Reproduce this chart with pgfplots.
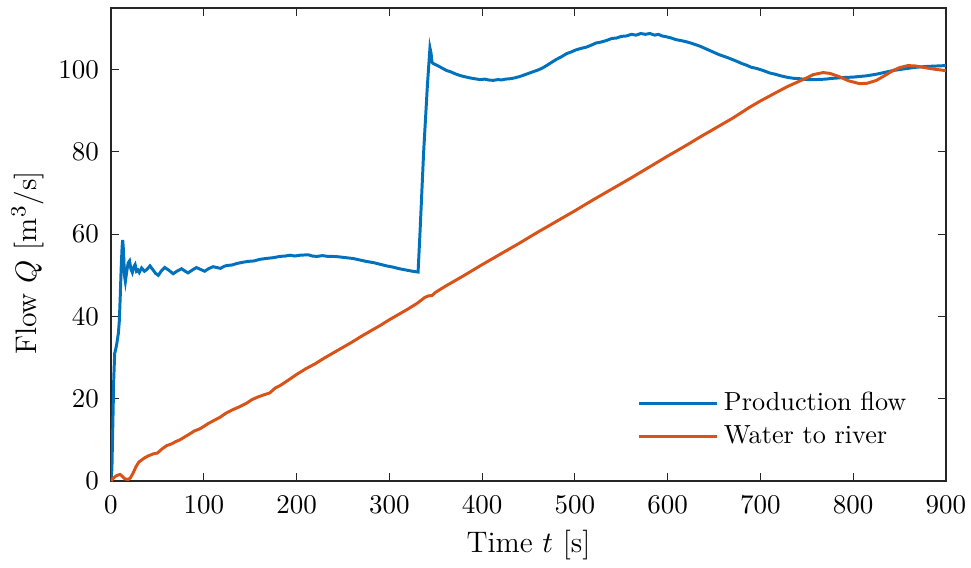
\documentclass[border=0pt]{standalone}
\usepackage{pgfplots}
\pgfplotsset{compat=1.18}
\definecolor{mblue}{rgb}{0,0.447,0.741}
\definecolor{morange}{rgb}{0.850,0.325,0.098}
\definecolor{axgray}{rgb}{0.15,0.15,0.15}
\begin{document}
\begin{tikzpicture}
\begin{axis}[
  scale only axis,
  width=309.26pt, height=175.19pt,
  xmin=0, xmax=900, ymin=0, ymax=115,
  xtick={0,100,...,900}, ytick={0,20,...,100},
  major tick length=3pt,
  tick style={axgray, line width=0.4pt},
  axis line style={axgray, line width=0.5pt},
  xticklabel style={yshift=-2pt},
  yticklabel style={xshift=-1pt},
  xlabel={Time $t$ [s]},
  ylabel={Flow $Q$ [m$^3$/s]},
  label style={font=\fontsize{11}{13}\selectfont},
  xlabel style={at={(axis description cs:0.5,-0.152)}, anchor=base},
  ylabel style={at={(axis description cs:-0.0898,0.461)}, anchor=base, rotate=0},
  legend style={draw=none, fill=none, at={(axis description cs:0.620,0.212)}, anchor=north west, row sep=0pt,
    legend cell align=left, font=\fontsize{9.7}{11}\selectfont},
  legend image code/.code={\draw[#1] (0pt,0pt) -- (29pt,0pt);},
]
\addplot[mblue, line width=1.1pt] coordinates {
(0,0) (1,3) (3,25) (4,31) (6,33) (8,36) (9,39) (10,45) (11,52) (12,57) (12.6,58.6) (13.5,56) (14.5,50) (15.5,48.5) (17,51) (18.5,53) (20,53.5) (21.5,51.5) (23,50.7) (24.5,52) (26,52.6) (27.5,51) (29,51.3) (30.5,50.7) (33,51.8) (36,51) (39,51.5) (42,52.3) (45,51.4) (48,50.5) (51,50) (54,51) (58,51.9) (62,51.3) (67,50.4) (71,51) (76,51.6) (80,51) (83,50.6) (87,51.2) (92,51.9) (96,51.5) (101,51) (105,51.6) (110,52.1) (114,51.9) (118,51.7) (122,52.2) (125,52.4) (130,52.5) (136,52.9) (142.6,53.2) (148,53.4) (154,53.5) (160.6,53.9) (167,54.1) (175,54.3) (182,54.6) (188,54.7) (193,54.9) (198,54.7) (204,54.9) (212.6,55) (217,54.7) (222,54.6) (228,54.8) (234,54.6) (239.6,54.6) (246,54.5) (253,54.3) (261,54.1) (267,53.8) (275,53.4) (282.7,53.1) (290,52.7) (297,52.3) (304,52.0) (311,51.6) (318,51.3) (325,51.0) (331,50.8) (333,60) (335,70) (337,80) (339,88) (341,96) (342.5,101) (343.8,105.3) (345,104) (346,101.8) (347.3,101.5) (352,101) (356,100.5) (361.7,99.8) (366,99.5) (371,99) (376,98.6) (381,98.3) (387,98) (392,97.8) (397.6,97.6) (403,97.7) (407,97.5) (412,97.4) (417,97.6) (421,97.5) (425,97.7) (430,97.8) (435,98) (440,98.3) (444,98.6) (450,99.1) (455,99.5) (460,99.9) (465,100.4) (469.5,101) (475,101.8) (480,102.5) (486,103.2) (491,103.9) (496,104.3) (501,104.8) (507,105.2) (512.6,105.5) (518,106) (523,106.5) (528,106.7) (534,107.1) (540,107.6) (545,107.7) (550,108.1) (555.7,108.2) (561,108.6) (566,108.4) (571,108.8) (576,108.6) (580.8,108.8) (586,108.4) (590,108.6) (594,108.2) (598.8,108) (604,107.7) (609,107.3) (614,107.1) (620,106.8) (626,106.4) (630,106.1) (635,105.7) (640,105.2) (644,104.8) (649,104.3) (655,103.7) (660,103.3) (665,102.9) (670.6,102.4) (675,102) (680,101.5) (685,101.1) (690,100.6) (696,100.3) (703,99.8) (710,99.2) (716,98.9) (722,98.5) (730,98.1) (736,97.9) (742.5,97.8) (750,97.6) (760,97.6) (770,97.7) (778,97.9) (790,98.1) (800,98.2) (814,98.5) (825,98.9) (835,99.4) (843,99.8) (855,100.2) (868,100.6) (880,100.8) (890,100.9) (900,101)
};
\addlegendentry{Production flow}
\addplot[morange, line width=1.1pt] coordinates {
(0,0) (3,0.8) (6,1.3) (9.7,1.6) (12,1.2) (15,0.5) (18.7,0.4) (21,0.8) (24,2) (27,3.5) (30,4.6) (33,5.1) (36,5.6) (40,6.1) (45.6,6.6) (50,6.8) (55,7.8) (60,8.6) (65,9.0) (70,9.6) (75,10.1) (81.5,11) (86,11.6) (90,12.2) (95,12.6) (99.5,13.2) (105,14) (110,14.6) (117.5,15.5) (124,16.5) (130,17.2) (138,18) (146,18.9) (152,19.8) (158,20.4) (164,20.9) (171,21.4) (177,22.6) (183,23.3) (189,24.2) (200,25.9) (210,27.3) (220,28.5) (230,29.9) (240,31.2) (250,32.5) (260,33.8) (270,35.2) (280,36.5) (290,37.8) (300,39.2) (310,40.5) (320,41.8) (330,43.2) (338,44.6) (342,45) (346,45.1) (350,45.9) (360,47.3) (380,49.9) (400,52.6) (420,55.2) (440,57.8) (460,60.5) (480,63.1) (500,65.7) (520,68.4) (540,71) (560,73.6) (580,76.3) (600,79) (620,81.6) (634.7,83.6) (650,85.6) (670,88.2) (688.6,90.9) (700,92.4) (719,94.7) (730,96.0) (746,97.6) (757,98.8) (767.6,99.3) (775,99.1) (785,98.3) (795,97.3) (807,96.6) (815,96.7) (825,97.4) (835,98.7) (843,99.8) (850,100.5) (859,101) (867,100.9) (875,100.6) (885,100.2) (899,99.8) (900,99.8)
};
\addlegendentry{Water to river}
\end{axis}
\pgfresetboundingbox
\path[use as bounding box] (-41.11pt,-31.85pt) rectangle (318.52pt,178.15pt);
\end{tikzpicture}
\end{document}
